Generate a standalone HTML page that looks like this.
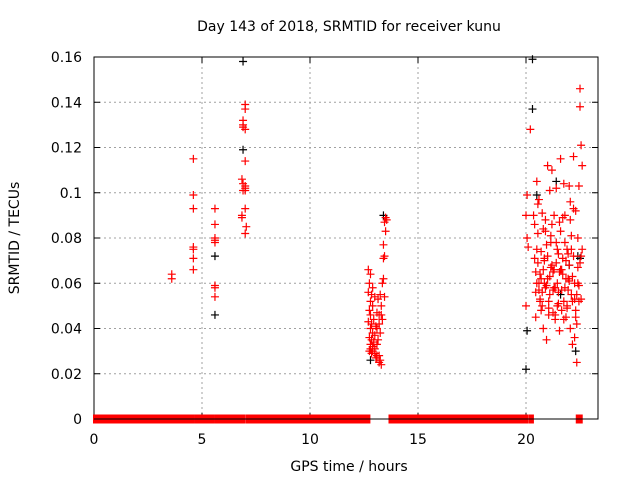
<!DOCTYPE html>
<html><head><meta charset="utf-8">
<style>
body{margin:0;background:#fff;}
svg{display:block;font-family:"DejaVu Sans","Liberation Sans",sans-serif;}
</style></head>
<body>
<svg id="chart" width="640" height="480">
<rect width="640" height="480" fill="#fff"/>
<text x="349" y="31" font-size="14" text-anchor="middle">Day 143 of 2018, SRMTID for receiver kunu</text>
<g id="grid"></g>
<g id="axes"></g>
<g id="marks"></g>
<text x="349" y="471" font-size="14" text-anchor="middle">GPS time / hours</text>
<text transform="translate(19,238) rotate(-90)" font-size="14" text-anchor="middle">SRMTID / TECUs</text>
</svg>
<script>
const xTicks=[0,5,10,15,20];
const yTicks=[0,0.02,0.04,0.06,0.08,0.1,0.12,0.14,0.16];
const yTickLabels=["0","0.02","0.04","0.06","0.08","0.1","0.12","0.14","0.16"];
const zeroSegments=[[0,4.6],[4.68,5.55],[5.63,6.98],[7.08,12.75],[13.68,20.05],[20.15,20.32],[22.35,22.42],[22.5,22.58]];
const redTimes=[3.6,3.6,4.6,4.6,4.6,4.6,4.6,4.6,4.6,5.6,5.6,5.6,5.6,5.6,5.6,5.6,5.6,7.0,7.0,6.9,6.9,6.9,7.0,7.0,7.0,6.85,6.9,7.0,7.0,6.9,7.0,6.85,6.85,7.05,7.0,
12.7,12.8,12.75,12.9,12.7,12.85,13.0,12.8,12.9,12.75,13.1,12.8,12.95,12.7,12.85,13.05,12.8,12.9,13.0,12.75,12.85,12.95,12.8,13.1,12.9,13.0,12.75,12.85,13.2,13.1,13.25,13.2,13.3,13.25,13.15,13.3,13.2,13.35,13.1,13.25,13.15,13.4,13.45,13.4,13.5,13.45,13.5,13.55,13.4,13.35,13.45,12.9,13.0,13.1,13.3,13.2,12.8,13.05,
20.0,20.05,20.1,20.0,20.05,20.2,20.35,20.4,20.4,20.45,20.5,20.5,20.55,20.6,20.6,20.65,20.7,20.7,20.75,20.8,20.8,20.85,20.9,20.9,20.95,21.0,21.0,21.05,21.1,21.1,21.15,21.2,21.2,21.25,21.3,21.3,21.35,21.4,21.4,21.45,21.5,21.5,21.55,21.6,21.6,21.65,21.7,21.7,21.75,21.8,21.8,21.85,21.9,21.9,21.95,22.0,22.0,22.05,22.1,22.1,22.15,22.2,22.2,22.25,22.3,22.3,22.35,22.4,22.4,22.45,22.5,22.5,22.55,22.6,22.6,
20.45,20.55,20.65,20.75,20.85,20.95,21.05,21.15,21.25,21.35,21.45,21.55,21.65,21.75,21.85,21.95,22.05,22.15,22.25,22.35,22.45,22.55,
20.5,20.6,20.7,20.8,20.9,21.0,21.1,21.2,21.3,21.4,21.5,21.6,21.7,21.8,21.9,22.0,22.1,22.2,22.3,22.4,22.5,
20.45,20.55,20.65,20.75,20.85,20.95,21.05,21.15,21.25,21.35,21.45,21.55,21.65,21.75,21.85,21.95,22.05,22.15,22.25,22.35,22.45,22.55];
const redValues=[0.062,0.064,0.115,0.099,0.093,0.076,0.075,0.071,0.066,0.093,0.086,0.080,0.079,0.078,0.059,0.058,0.054,0.139,0.137,0.132,0.130,0.129,0.128,0.114,0.103,0.106,0.104,0.102,0.101,0.101,0.093,0.090,0.089,0.085,0.082,
0.066,0.064,0.060,0.058,0.056,0.055,0.054,0.052,0.050,0.048,0.047,0.046,0.044,0.043,0.042,0.041,0.040,0.038,0.037,0.036,0.035,0.034,0.033,0.033,0.032,0.031,0.030,0.029,0.028,0.027,0.026,0.025,0.024,0.055,0.053,0.050,0.046,0.044,0.040,0.038,0.035,0.071,0.072,0.077,0.083,0.087,0.089,0.088,0.062,0.060,0.054,0.030,0.029,0.028,0.046,0.042,0.031,0.027,
0.050,0.080,0.076,0.090,0.099,0.128,0.090,0.086,0.071,0.065,0.105,0.060,0.095,0.057,0.097,0.052,0.074,0.062,0.050,0.084,0.040,0.070,0.088,0.058,0.035,0.112,0.062,0.046,0.101,0.055,0.081,0.110,0.068,0.047,0.090,0.066,0.058,0.102,0.078,0.050,0.073,0.056,0.039,0.115,0.066,0.048,0.089,0.071,0.044,0.090,0.058,0.062,0.075,0.050,0.062,0.103,0.068,0.040,0.081,0.055,0.033,0.116,0.072,0.053,0.092,0.045,0.025,0.080,0.060,0.052,0.146,0.138,0.121,0.112,0.075,
0.045,0.082,0.064,0.056,0.071,0.059,0.052,0.078,0.065,0.044,0.060,0.087,0.066,0.052,0.070,0.057,0.088,0.063,0.036,0.055,0.103,0.053,
0.075,0.060,0.048,0.066,0.083,0.072,0.063,0.086,0.058,0.069,0.051,0.083,0.064,0.078,0.049,0.061,0.075,0.093,0.048,0.067,0.069,
0.056,0.069,0.053,0.091,0.060,0.077,0.049,0.067,0.057,0.046,0.075,0.065,0.057,0.104,0.045,0.073,0.096,0.052,0.060,0.042,0.059,0.072];
const blackTimes=[5.6,5.6,6.9,6.9,12.8,13.4,20.0,20.05,20.3,20.3,20.5,21.4,21.6,22.0,22.3,22.4,22.5];
const blackValues=[0.072,0.046,0.158,0.119,0.026,0.090,0.022,0.039,0.137,0.159,0.099,0.105,0.055,0.068,0.030,0.072,0.071];

const X0=94,X1=598,Y0=419,Y1=57,XMAX=23.333,YMAX=0.16;
const xs=t=>X0+t/XMAX*(X1-X0);
const ys=v=>Y0-v/YMAX*(Y0-Y1);
const NS="http://www.w3.org/2000/svg";
function mk(tag,attrs,parent){const e=document.createElementNS(NS,tag);for(const k in attrs)e.setAttribute(k,attrs[k]);parent.appendChild(e);return e;}
const grid=document.getElementById('grid'),axes=document.getElementById('axes'),marks=document.getElementById('marks');
xTicks.forEach((t,i)=>{
  const x=xs(t);
  if(t>0){const g=mk('line',{x1:x,x2:x,y1:Y1,y2:Y0,stroke:'#a0a0a0','stroke-dasharray':'2,3'},grid);
  
  }
  mk('line',{x1:x,x2:x,y1:Y0,y2:Y0-6,stroke:'#000'},axes);
  mk('line',{x1:x,x2:x,y1:Y1,y2:Y1+6,stroke:'#000'},axes);
  const l=mk('text',{x:x,y:444,'font-size':14,'text-anchor':'middle'},axes);
  l.textContent=t;
  
  
});
yTicks.forEach((v,i)=>{
  const y=ys(v);
  if(v>0){const g=mk('line',{x1:X0,x2:X1,y1:y,y2:y,stroke:'#a0a0a0','stroke-dasharray':'2,3'},grid);
  
  }
  mk('line',{x1:X0,x2:X0+6,y1:y,y2:y,stroke:'#000'},axes);
  mk('line',{x1:X1,x2:X1-6,y1:y,y2:y,stroke:'#000'},axes);
  const l=mk('text',{x:82,y:y+5,'font-size':14,'text-anchor':'end'},axes);
  l.textContent=yTickLabels[i];
  
  
});
const frame=mk('rect',{x:X0,y:Y1,width:X1-X0,height:Y0-Y1,fill:'none',stroke:'#000'},axes);


zeroSegments.forEach(s=>{
  const r=mk('rect',{x:xs(s[0])-1,y:ys(0)-4.5,width:xs(s[1])-xs(s[0])+2,height:9,fill:'#ff0000'},marks);
  
  
});
mk('line',{x1:X0,x2:X1,y1:Y0,y2:Y0,stroke:'#000'},marks);
function plus(t,v,c,name){
  const x=xs(t),y=ys(v);
  const p=mk('path',{d:`M${x-4},${y}H${x+4}M${x},${y-4}V${y+4}`,stroke:c,'stroke-width':1.2,fill:'none'},marks);
  
  
}
blackTimes.forEach((t,i)=>plus(t,blackValues[i],'#000','point-black'));
redTimes.forEach((t,i)=>plus(t,redValues[i],'#ff0000','point-red'));
</script>
</body></html>
